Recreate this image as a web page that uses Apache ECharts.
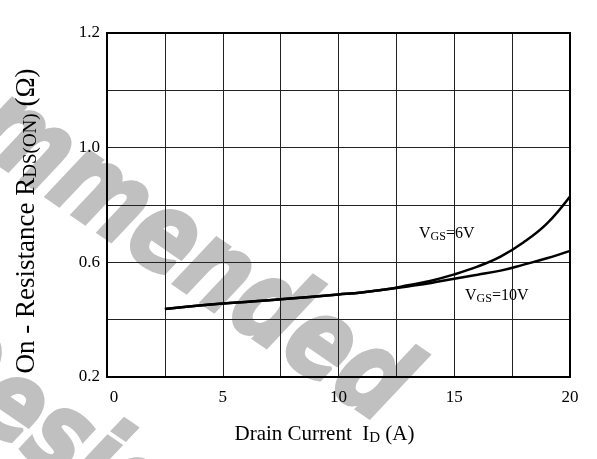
<!DOCTYPE html>
<html>
<head>
<meta charset="utf-8">
<script src="https://cdn.jsdelivr.net/npm/echarts@6/dist/echarts.min.js"></script>
<style>
  html, body { margin: 0; padding: 0; background: #fff; }
  #chart { width: 597px; height: 459px; }
</style>
</head>
<body>
<div id="chart"></div>
<script>
// drain current (A)
var current = [2.5, 5, 7.5, 10, 11, 12, 13, 14, 15, 16, 17, 18, 19, 20];
// on-resistance (ohm)
var rdsVgs6 = [0.437, 0.456, 0.471, 0.488, 0.495, 0.505, 0.52, 0.536, 0.558, 0.585, 0.62, 0.67, 0.735, 0.83];
var rdsVgs10 = [0.437, 0.456, 0.471, 0.488, 0.495, 0.505, 0.516, 0.528, 0.543, 0.557, 0.571, 0.592, 0.614, 0.64];
// y tick labels as printed on the original (one per grid line)
var yTickLabels = ['0.2', '', '0.6', '', '1.0', '', '1.2'];
var xTickLabels = ['0', '5', '10', '15', '20'];

var serif = '"Liberation Serif", "Times New Roman", serif';
var wmFont = 'italic bold 112px "DejaVu Sans", sans-serif';

function pairs(xs, ys) {
    var out = [];
    for (var i = 0; i < xs.length; i++) out.push([xs[i], ys[i]]);
    return out;
}

var chart = echarts.init(document.getElementById('chart'));

var option = {
    animation: false,
    backgroundColor: '#fff',
    grid: {
        left: 107,
        right: 27,
        top: 33,
        bottom: 82,
        show: true,
        borderColor: '#000',
        borderWidth: 2,
        z: 3
    },
    graphic: [
        {
            type: 'text', z: -10, silent: true,
            x: 365, y: 447, rotation: -0.6, scaleX: 0.8,
            style: {
                text: 'Recommended', textAlign: 'right', textVerticalAlign: 'bottom',
                font: wmFont, fill: '#c0c0c0', stroke: '#c0c0c0', lineWidth: 4
            }
        },
        {
            type: 'text', z: -10, silent: true,
            x: -108, y: 396, rotation: -0.6, scaleX: 0.8,
            style: {
                text: 'Design', textAlign: 'left', textVerticalAlign: 'bottom',
                font: wmFont, fill: '#c0c0c0', stroke: '#c0c0c0', lineWidth: 4
            }
        },
        {
            type: 'text', z: 10,
            x: 419, y: 225,
            style: {
                text: '{m|V}{s|GS}{m|=6V}',
                rich: {
                    m: { fontFamily: serif, fontSize: 16, fill: '#000' },
                    s: { fontFamily: serif, fontSize: 12, fill: '#000', padding: [6, 0, 0, 0] }
                }
            }
        },
        {
            type: 'text', z: 10,
            x: 465, y: 287,
            style: {
                text: '{m|V}{s|GS}{m|=10V}',
                rich: {
                    m: { fontFamily: serif, fontSize: 16, fill: '#000' },
                    s: { fontFamily: serif, fontSize: 12, fill: '#000', padding: [6, 0, 0, 0] }
                }
            }
        }
    ],
    xAxis: {
        type: 'value',
        min: 0,
        max: 20,
        interval: 2.5,
        name: '{m|Drain Current  I}{s|D}{m| (A)}',
        nameLocation: 'middle',
        nameGap: 46,
        nameTextStyle: {
            padding: [0, 28, 0, 0],
            rich: {
                m: { fontFamily: serif, fontSize: 21, color: '#000' },
                s: { fontFamily: serif, fontSize: 15, color: '#000', padding: [8, 0, 0, 0] }
            }
        },
        axisLine: { show: true, lineStyle: { color: '#000', width: 2 } },
        axisTick: { show: false },
        splitLine: { show: true, lineStyle: { color: '#222', width: 1 } },
        axisLabel: {
            margin: 12,
            fontFamily: serif,
            fontSize: 17,
            color: '#000',
            formatter: function (v) {
                if (Math.abs(v % 5) > 1e-6) return '';
                var s = xTickLabels[Math.round(v / 5)];
                return v === 0 ? '{f|' + s + '}' : s;
            },
            rich: {
                f: { fontFamily: serif, fontSize: 17, color: '#000', padding: [0, 0, 0, 14] }
            }
        }
    },
    yAxis: {
        type: 'value',
        min: 0.2,
        max: 1.4,
        interval: 0.2,
        name: '{m|On - Resistance R}{s|DS(ON)}{m| (Ω)}',
        nameLocation: 'middle',
        nameGap: 66,
        nameTextStyle: {
            padding: [0, 32, 0, 0],
            rich: {
                m: { fontFamily: serif, fontSize: 27, color: '#000' },
                s: { fontFamily: serif, fontSize: 19, color: '#000', padding: [10, 0, 0, 0] }
            }
        },
        axisLine: { show: true, lineStyle: { color: '#000', width: 2 } },
        axisTick: { show: false },
        splitLine: { show: true, lineStyle: { color: '#222', width: 1 } },
        axisLabel: {
            margin: 7,
            fontFamily: serif,
            fontSize: 17,
            color: '#000',
            formatter: function (v, i) {
                return yTickLabels[i] || '';
            }
        }
    },
    series: [
        {
            name: 'VGS=6V',
            type: 'line',
            smooth: 0.4,
            symbol: 'none',
            z: 5,
            lineStyle: { color: '#000', width: 2.5 },
            data: pairs(current, rdsVgs6)
        },
        {
            name: 'VGS=10V',
            type: 'line',
            smooth: 0.4,
            symbol: 'none',
            z: 5,
            lineStyle: { color: '#000', width: 2.5 },
            data: pairs(current, rdsVgs10)
        }
    ]
};

chart.setOption(option);
</script>
</body>
</html>
